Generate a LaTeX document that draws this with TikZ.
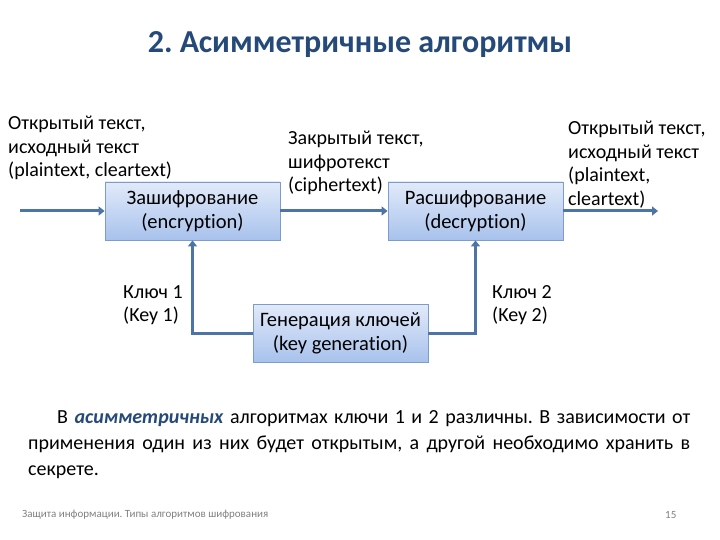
\documentclass[tikz,border=0pt]{standalone}
\usepackage{fontspec}
\setmainfont{Carlito}[RawFeature=-liga]
\usetikzlibrary{arrows.meta}
\definecolor{titlec}{HTML}{254A7A}
\definecolor{arrowc}{HTML}{4C74A6}
\definecolor{boxtop}{HTML}{E2EAFA}
\definecolor{boxbot}{HTML}{A8C2EC}
\definecolor{boxdraw}{HTML}{7E9CCB}
\tikzset{
  box/.style={draw=boxdraw, line width=0.8pt, top color=boxtop, bottom color=boxbot,
    minimum width=175pt, minimum height=58pt, align=center, inner sep=0pt,
    font=\fontsize{20.5}{24}\selectfont},
  lbl/.style={align=left, inner sep=0pt, font=\fontsize{20}{23.5}\selectfont},
  conn/.style={draw=arrowc, line width=3pt, -{Triangle[width=9pt,length=6pt]}},
}
\frenchspacing
\begin{document}
\frenchspacing
\begin{tikzpicture}[x=1pt,y=-1pt]
\useasboundingbox (0,0) rectangle (720,540);
\node[font=\bfseries\fontsize{32}{36}\selectfont, text=titlec] (title) at (360,45) {2. Асимметричные алгоритмы};

\node[box] (enc) at (192.5,211) {Зашифрование\\(encryption)};
\node[box] (dec) at (475.5,211) {Расшифрование\\(decryption)};
\node[box] (gen) at (340.5,333) {Генерация ключей\\(key generation)};

\coordinate (in) at (20,211);
\coordinate (out) at (658,211);

\node[lbl, anchor=north west] (plain1) at (8,116) {Открытый текст,\\исходный текст\\(plaintext, cleartext)};
\node[lbl, anchor=north west] (cipher) at (288,131) {Закрытый текст,\\шифротекст\\(ciphertext)};
\node[lbl, anchor=north west] (plain2) at (568,121) {Открытый текст,\\исходный текст\\(plaintext,\\cleartext)};
\node[lbl, anchor=north west] (k1) at (123,285) {Ключ 1\\(Key 1)};
\node[lbl, anchor=north west] (k2) at (492,285) {Ключ 2\\(Key 2)};

\draw[conn] (in) -- (enc.west);
\draw[conn] (enc.east) -- (dec.west);
\draw[conn] (dec.east) -- (out);
\draw[conn] (gen.west) -| (enc.south);
\draw[conn] (gen.east) -| (dec.south);

\node[anchor=north west, text width=662pt, align=justify, inner sep=0pt,
  font=\fontsize{20}{26}\selectfont] (para) at (28,410)
  {\frenchspacing\hspace*{29pt}В \textcolor{titlec}{\textbf{\textit{асимметричных}}} алгоритмах ключи 1 и 2 различны. В зависимости от\linebreak применения один из них будет открытым, а другой необходимо хранить в\linebreak секрете.};

\node[anchor=west, inner sep=0pt, text=gray, font=\fontsize{11}{13}\selectfont] (foot) at (22,515) {Защита информации. Типы алгоритмов шифрования};
\node[anchor=west, inner sep=0pt, text=gray, font=\fontsize{11}{13}\selectfont] (pg) at (665,515) {15};
\end{tikzpicture}
\end{document}
